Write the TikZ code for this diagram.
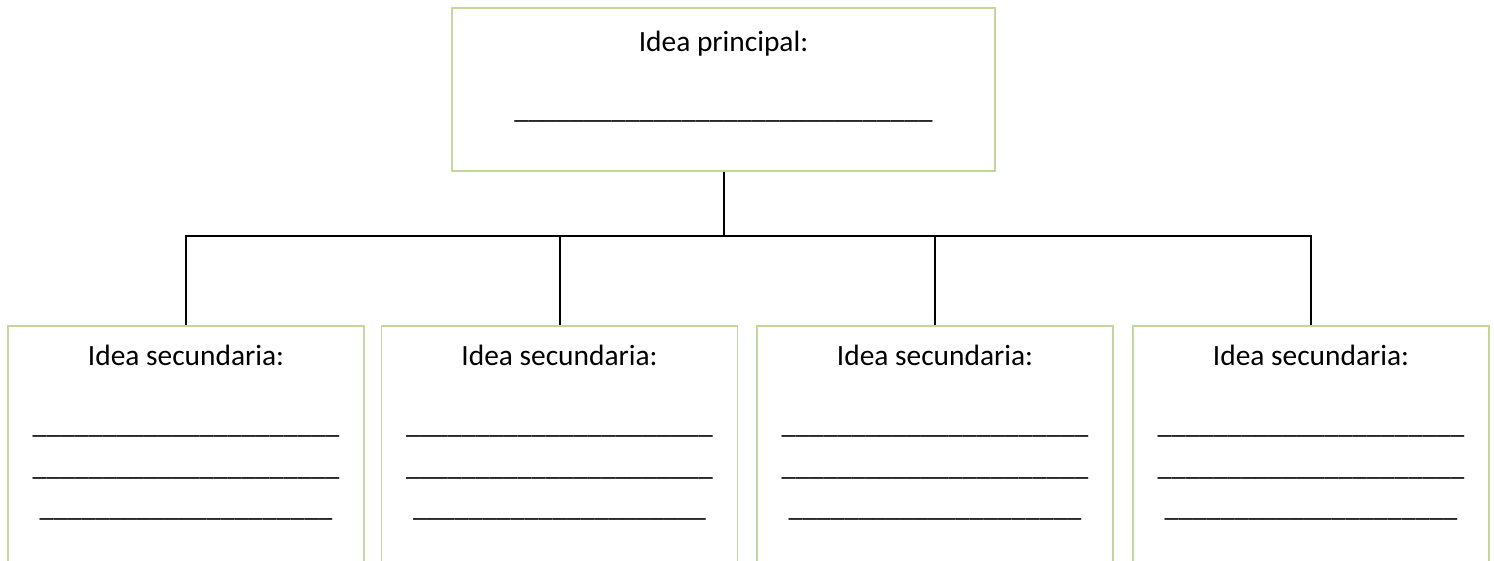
\documentclass[tikz,border=0pt]{standalone}
\usepackage{fontspec}
\setmainfont{Carlito}
\usetikzlibrary{positioning}
\definecolor{boxgreen}{RGB}{195,214,155}
\newcommand{\blankline}[1]{\foreach \k in {1,...,#1}{\_}}

\begin{document}
\begin{tikzpicture}
        [x=1pt, y=-1pt,
         box/.style={draw=boxgreen, line width=1.1pt, minimum width=#1, inner sep=0pt},
         txt/.style={font=\fontsize{29.4}{34}\selectfont, anchor=base, inner sep=0pt},
         blank/.style={font=\fontsize{28}{34}\selectfont, anchor=base, inner sep=0pt},
         link/.style={line width=2pt}]
        \useasboundingbox (0,0) rectangle (1494,561);
        \clip (0,0) rectangle (1494,561);
        \node (main) [box=543pt, minimum height=163pt] at (723.5,89.5) {};
        \node (main-t) [txt] at (723.5,52) {Idea principal:};
        \node (main-l) [blank] at (723.5,119) {\blankline{30}};
        \draw [link] (main.south) -- ++(0,64) coordinate (bus);
        \foreach \x [count = \i] in {186,559.5,935,1311}{
            \node (sec\i) [box=356pt, minimum height=300pt] at (\x,476) {};
            \node (sec\i-t) [txt] at (\x,366) {Idea secundaria:};
            \node (sec\i-a) [blank] at (\x,433) {\blankline{22}};
            \node (sec\i-b) [blank] at (\x,475) {\blankline{22}};
            \node (sec\i-c) [blank] at (\x,516) {\blankline{21}};
            \draw [link] (sec\i.north |- bus) -- (sec\i.north);
        }
        \draw [link, line cap=rect] (sec1.north |- bus) -- (sec4.north |- bus);
    \end{tikzpicture}
\end{document}
